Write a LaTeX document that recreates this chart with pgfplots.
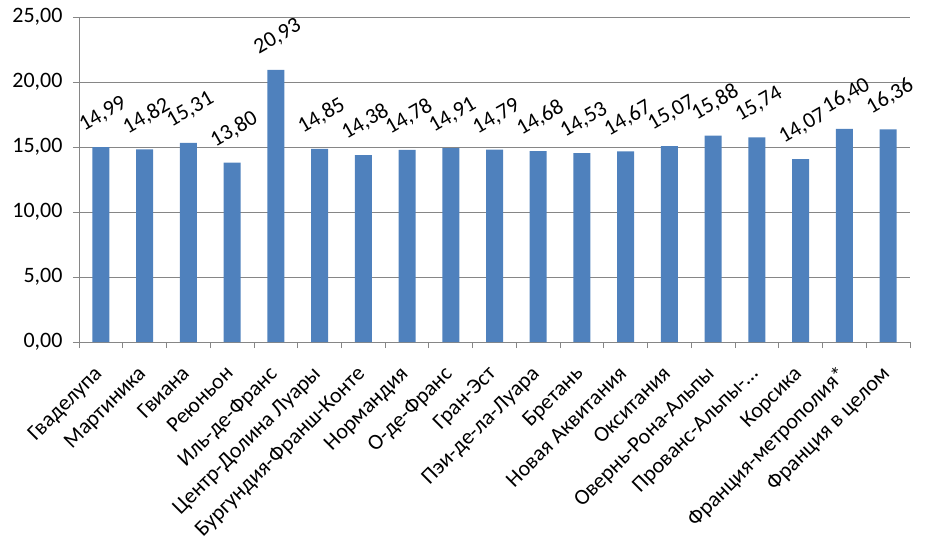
\documentclass[border=0pt]{standalone}
\usepackage{pgfplots}
\pgfplotsset{compat=1.18}
\usepackage{fontspec}
\setmainfont{Carlito}
\definecolor{barblue}{HTML}{4F81BD}
\definecolor{gridgray}{HTML}{868686}
\begin{document}
\begin{tikzpicture}
\begin{axis}[
  scale only axis, width=831pt, height=325pt,
  xmin=-0.5, xmax=18.5, ymin=0, ymax=25,
  ytick={0,5,10,15,20,25},
  scaled y ticks=false,
  ymajorgrids, grid style={gridgray, line width=0.8pt},
  axis lines*=left, axis line style={gridgray, line width=0.8pt, -},
  xtick={0,...,18},
  xticklabels={Гваделупа,Мартиника,Гвиана,Реюньон,Иль-де-Франс,Центр-Долина Луары,Бургундия-Франш-Конте,Нормандия,О-де-Франс,Гран-Эст,Пэи-де-ла-Луара,Бретань,Новая Аквитания,Окситания,Овернь-Рона-Альпы,Прованс-Альпы-…,Корсика,Франция-метрополия*,Франция в целом},
  major x tick style={draw=none},
  minor xtick={-0.5,0.5,...,18.5},
  minor x tick style={gridgray, line width=0.8pt},
  major y tick style={gridgray, line width=0.8pt},
  tick align=outside, major tick length=6pt, minor tick length=6pt,
  xticklabel style={xshift=-8pt, yshift=-15pt, rotate=45, anchor=north east, font=\fontsize{22}{26}\selectfont, inner sep=1pt},
  yticklabel style={font=\fontsize{22}{26}\selectfont, xshift=-7pt},
  /pgf/number format/fixed,
  /pgf/number format/fixed zerofill,
  /pgf/number format/precision=2,
  /pgf/number format/use comma,
  /pgf/number format/assume math mode=true,
  ybar, bar width=17pt,
  nodes near coords,
  every node near coord/.append style={font=\fontsize{22}{26}\selectfont, xshift=2pt, yshift=33pt, rotate=30, anchor=center, text=black},
  clip=false,
]
\addplot[fill=barblue, draw=none] coordinates {
(0,14.99) (1,14.82) (2,15.31) (3,13.80) (4,20.93) (5,14.85) (6,14.38) (7,14.78) (8,14.91) (9,14.79) (10,14.68) (11,14.53) (12,14.67) (13,15.07) (14,15.88) (15,15.74) (16,14.07) (17,16.40) (18,16.36)
};
\end{axis}
\path (-79pt,-201pt) rectangle (852pt,342pt);
\end{tikzpicture}
\end{document}
